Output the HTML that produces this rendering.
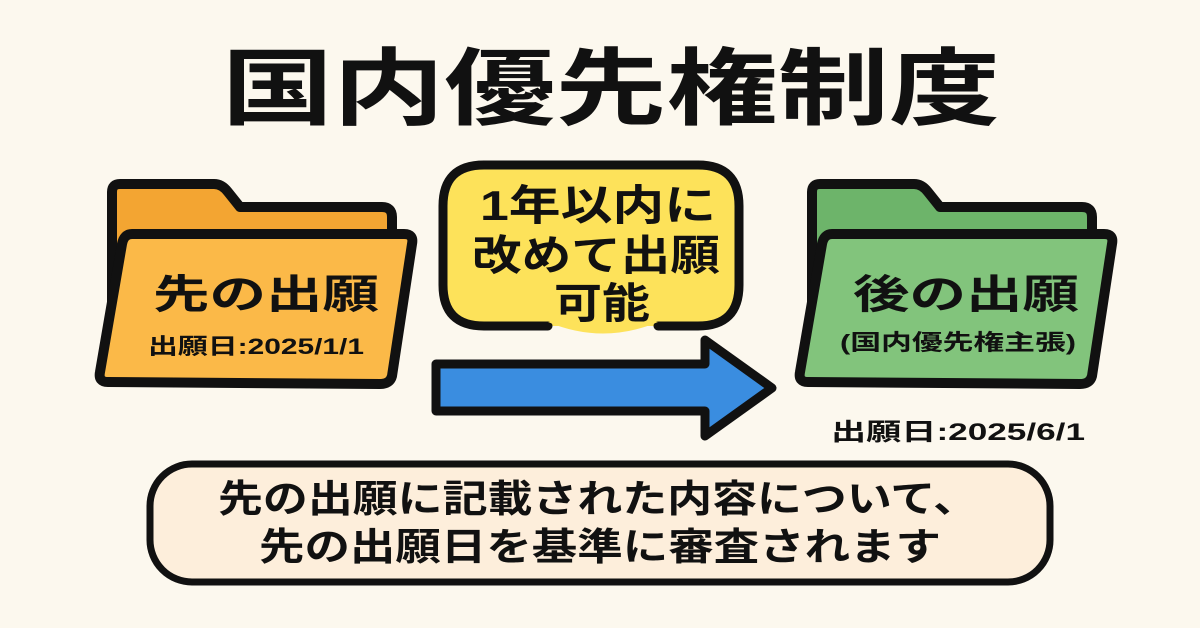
<!DOCTYPE html>
<html><head><meta charset="utf-8"><style>
html,body{margin:0;padding:0;background:#fcf8ee;}
svg{display:block}
text{font-family:"Liberation Sans","Noto Sans CJK JP",sans-serif;font-weight:bold;fill:#111;}
</style></head><body>
<svg width="1200" height="628" viewBox="0 0 1200 628" xmlns="http://www.w3.org/2000/svg">
<rect width="1200" height="628" fill="#fcf8ee"/>
<text x="611" y="118" font-size="84" text-anchor="middle" textLength="778" lengthAdjust="spacingAndGlyphs">国内優先権制度</text>

<!-- left folder -->
<g stroke="#111" stroke-width="10" stroke-linejoin="round">
<path d="M112,192 Q112,184 120,184 L214,184 Q222,184 228,192 L240,207 L382,207 Q392,207 392,217 L392,240 L112,360 Z" fill="#f3a532"/>
<path d="M132,234 L404,234 Q414,234 412,244 L392,376 Q390,384 380,384 L108,382 Q98,382 100,372 L122,244 Q124,234 132,234 Z" fill="#fbb948"/>
</g>
<text x="266" y="308" font-size="40" text-anchor="middle" textLength="226" lengthAdjust="spacingAndGlyphs">先の出願</text>
<text x="256" y="354" font-size="22" text-anchor="middle" textLength="216" lengthAdjust="spacingAndGlyphs">出願日:2025/1/1</text>

<!-- right folder -->
<g stroke="#111" stroke-width="10" stroke-linejoin="round">
<path d="M812,192 Q812,184 820,184 L914,184 Q922,184 928,192 L940,207 L1082,207 Q1092,207 1092,217 L1092,240 L812,360 Z" fill="#6db46a"/>
<path d="M832,234 L1104,234 Q1114,234 1112,244 L1092,376 Q1090,384 1080,384 L808,382 Q798,382 800,372 L822,244 Q824,234 832,234 Z" fill="#82c47c"/>
</g>
<text x="966" y="308" font-size="40" text-anchor="middle" textLength="226" lengthAdjust="spacingAndGlyphs">後の出願</text>
<text x="958" y="350" font-size="22" text-anchor="middle" textLength="236" lengthAdjust="spacingAndGlyphs">(国内優先権主張)</text>
<text x="958" y="440" font-size="24" text-anchor="middle" textLength="254" lengthAdjust="spacingAndGlyphs">出願日:2025/6/1</text>

<!-- bubble -->
<path d="M548,326 L484,326 Q443,326 443,285 L443,206 Q443,165 484,165 L698,165 Q739,165 739,206 L739,285 Q739,326 698,326 L658,326" fill="#fde25a" stroke="#111" stroke-width="9" stroke-linecap="round"/>
<path d="M548,322 Q603,345 658,322 Z" fill="#fde25a"/>
<text x="598" y="220" font-size="42" text-anchor="middle" textLength="236" lengthAdjust="spacingAndGlyphs">1年以内に</text>
<text x="596" y="270" font-size="42" text-anchor="middle" textLength="248" lengthAdjust="spacingAndGlyphs">改めて出願</text>
<text x="602" y="318" font-size="42" text-anchor="middle" textLength="96" lengthAdjust="spacingAndGlyphs">可能</text>

<!-- arrow -->
<path d="M436,364 L705,364 L705,340 L772,388 L705,436 L705,411 L436,411 Z" fill="#3a8de0" stroke="#111" stroke-width="9" stroke-linejoin="round"/>

<!-- bottom box -->
<rect x="150" y="464" width="900" height="118" rx="42" fill="#fdeedb" stroke="#111" stroke-width="7"/>
<text x="598" y="512" font-size="38" text-anchor="middle" textLength="760" lengthAdjust="spacingAndGlyphs">先の出願に記載された内容について、</text>
<text x="600" y="560" font-size="38" text-anchor="middle" textLength="682" lengthAdjust="spacingAndGlyphs">先の出願日を基準に審査されます</text>
</svg>
</body></html>
